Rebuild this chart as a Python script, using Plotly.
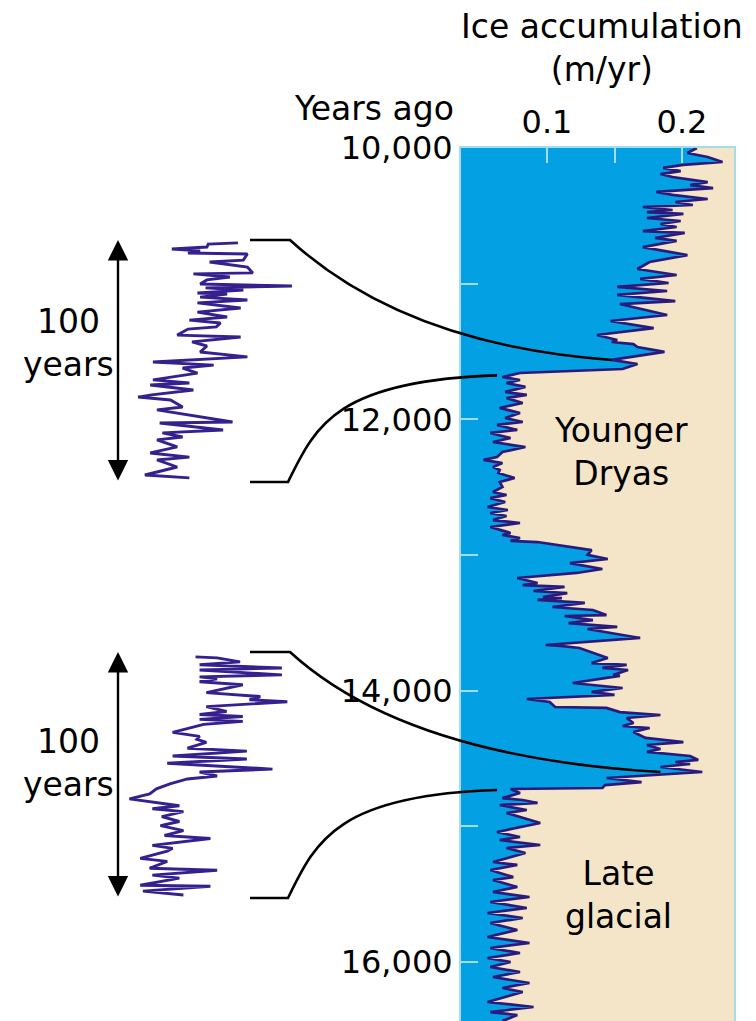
import plotly.graph_objects as go

# ---------------------------------------------------------------------------
# Ice accumulation record (m/yr) against age (years ago)
# ---------------------------------------------------------------------------
years_ago = [
    10000, 10037, 10066, 10103, 10125, 10147, 10170, 10192, 10214, 10251,
    10273, 10295, 10324, 10346, 10376, 10398, 10420, 10435, 10457, 10472,
    10486, 10516, 10538, 10560, 10582, 10612, 10626, 10663, 10685, 10730,
    10789, 10840, 10892, 10936, 10965, 10995, 11024, 11054, 11083, 11128,
    11150, 11231, 11275, 11327, 11378, 11415, 11430, 11445, 11467, 11503,
    11562, 11592, 11629, 11658, 11688, 11710, 11732, 11761, 11798, 11820,
    11843, 11879, 11916, 11953, 11990, 12019, 12041, 12078, 12100, 12137,
    12167, 12204, 12240, 12277, 12299, 12322, 12351, 12373, 12395, 12432,
    12462, 12498, 12535, 12557, 12580, 12609, 12646, 12668, 12690, 12712,
    12742, 12764, 12793, 12837, 12852, 12874, 12896, 12904, 12963, 12999,
    13029, 13059, 13103, 13132, 13169, 13206, 13221, 13235, 13265, 13280,
    13309, 13317, 13331, 13353, 13383, 13405, 13442, 13449, 13479, 13501,
    13530, 13545, 13611, 13663, 13670, 13685, 13759, 13796, 13810, 13832,
    13847, 13884, 13891, 13943, 13980, 14009, 14031, 14061, 14083, 14120,
    14127, 14157, 14179, 14201, 14238, 14260, 14275, 14304, 14348, 14378,
    14400, 14429, 14451, 14481, 14510, 14525, 14540, 14562, 14599, 14614,
    14643, 14673, 14695, 14717, 14724,
    14754, 14791, 14805, 14827, 14842, 14879, 14901, 14975, 15041, 15078,
    15100, 15137, 15159, 15196, 15262, 15284, 15321, 15373, 15395, 15446,
    15483, 15520, 15557, 15601, 15638, 15675, 15712, 15763, 15815, 15859,
    15896, 15933, 15970, 15999, 16036, 16073, 16110, 16154, 16191, 16220,
    16294, 16331, 16368, 16390, 16434,
]
accumulation = [
    0.211, 0.204, 0.219, 0.230, 0.201, 0.186, 0.199, 0.184, 0.193, 0.219,
    0.206, 0.223, 0.181, 0.193, 0.219, 0.195, 0.208, 0.171, 0.193, 0.174,
    0.201, 0.174, 0.199, 0.184, 0.196, 0.171, 0.202, 0.180, 0.196, 0.171,
    0.204, 0.176, 0.167, 0.196, 0.169, 0.190, 0.152, 0.189, 0.152, 0.195,
    0.154, 0.189, 0.147, 0.179, 0.137, 0.152, 0.148, 0.164, 0.167, 0.187,
    0.148, 0.167, 0.156, 0.080, 0.067, 0.080, 0.070, 0.084, 0.069, 0.085,
    0.070, 0.082, 0.065, 0.080, 0.069, 0.082, 0.063, 0.078, 0.058, 0.073,
    0.060, 0.084, 0.067, 0.063, 0.053, 0.067, 0.060, 0.065, 0.064, 0.076,
    0.065, 0.067, 0.060, 0.070, 0.058, 0.069, 0.056, 0.071, 0.058, 0.070,
    0.060, 0.080, 0.058, 0.073, 0.067, 0.080, 0.073, 0.093, 0.133, 0.130,
    0.145, 0.117, 0.141, 0.122, 0.078, 0.093, 0.082, 0.113, 0.090, 0.115,
    0.097, 0.111, 0.093, 0.128, 0.104, 0.134, 0.144, 0.113, 0.134, 0.116,
    0.152, 0.130, 0.169, 0.099, 0.110, 0.124, 0.145, 0.133, 0.159, 0.141,
    0.160, 0.149, 0.154, 0.119, 0.156, 0.133, 0.150, 0.085, 0.102, 0.106,
    0.144, 0.154, 0.184, 0.159, 0.164, 0.156, 0.176, 0.164, 0.173, 0.201,
    0.174, 0.184, 0.174, 0.206, 0.212, 0.195, 0.206, 0.184, 0.215, 0.193,
    0.144, 0.170, 0.143, 0.141, 0.073,
    0.080, 0.067, 0.082, 0.093, 0.065, 0.085, 0.070, 0.095, 0.063, 0.080,
    0.065, 0.095, 0.070, 0.084, 0.060, 0.078, 0.058, 0.075, 0.060, 0.078,
    0.060, 0.087, 0.058, 0.085, 0.056, 0.082, 0.058, 0.078, 0.056, 0.087,
    0.058, 0.080, 0.056, 0.073, 0.058, 0.080, 0.060, 0.087, 0.067, 0.082,
    0.056, 0.090, 0.058, 0.078, 0.067,
]

# High-resolution detail of the two abrupt transitions (years into a 100-year window)
end_yd_years = [
    1.2, 1.7, 2.9, 3.7, 4.5, 5.4, 5.8, 8.3, 9.1, 11.2,
    13.6, 14.0, 15.3, 16.5, 18.2, 19.0, 19.8, 20.7, 21.9, 22.3,
    23.6, 24.8, 26.0, 28.1, 29.8, 31.8, 33.1, 34.3, 35.9, 36.8,
    39.3, 40.1, 42.1, 43.8, 46.3, 48.3, 50.4, 51.7, 52.9, 55.0,
    57.8, 59.1, 59.9, 62.0, 64.0, 64.9, 66.1, 69.0, 70.2, 75.2,
    75.6, 78.5, 79.7, 81.4, 82.6, 85.5, 88.0, 89.7, 90.9, 93.8,
    97.1, 98.3,
]
end_yd_acc = [
    0.130, 0.108, 0.107, 0.081, 0.102, 0.093, 0.137, 0.134, 0.109, 0.137,
    0.141, 0.097, 0.124, 0.107, 0.102, 0.170, 0.106, 0.134, 0.100, 0.122,
    0.102, 0.137, 0.100, 0.132, 0.100, 0.122, 0.094, 0.117, 0.114, 0.093,
    0.085, 0.132, 0.096, 0.107, 0.102, 0.137, 0.067, 0.112, 0.089, 0.100,
    0.067, 0.094, 0.065, 0.097, 0.066, 0.056, 0.080, 0.089, 0.070, 0.126,
    0.072, 0.119, 0.074, 0.089, 0.070, 0.085, 0.065, 0.094, 0.070, 0.085,
    0.061, 0.094,
]
end_glacial_years = [
    2.0, 2.4, 4.0, 5.2, 6.5, 7.3, 9.3, 10.1, 10.9, 12.1,
    13.3, 16.5, 18.1, 19.4, 20.2, 22.2, 24.2, 25.4, 26.2, 27.4,
    28.2, 29.4, 32.7, 34.3, 35.5, 36.7, 39.1, 40.3, 42.3, 43.5,
    45.2, 47.6, 48.8, 50.4, 51.6, 53.6, 55.6, 57.7, 59.7, 60.9,
    62.5, 63.7, 64.9, 66.9, 68.9, 70.6, 72.6, 74.6, 75.8, 78.6,
    79.8, 81.0, 83.9, 85.1, 87.9, 88.7, 90.7, 91.9, 94.8, 95.2,
    97.2, 98.8,
]
end_glacial_acc = [
    0.106, 0.122, 0.139, 0.109, 0.170, 0.109, 0.170, 0.109, 0.122, 0.109,
    0.141, 0.114, 0.154, 0.146, 0.174, 0.114, 0.129, 0.109, 0.141, 0.109,
    0.141, 0.112, 0.089, 0.109, 0.107, 0.114, 0.100, 0.144, 0.089, 0.144,
    0.085, 0.163, 0.109, 0.122, 0.100, 0.087, 0.077, 0.072, 0.057, 0.074,
    0.094, 0.074, 0.097, 0.081, 0.094, 0.080, 0.097, 0.083, 0.117, 0.074,
    0.089, 0.085, 0.065, 0.085, 0.072, 0.122, 0.074, 0.094, 0.065, 0.117,
    0.067, 0.097,
]

# Windows on the main record that the two details expand (accumulation, years ago)
detail_windows = [
    {"top": (0.148, 11562), "bottom": (0.063, 11676)},
    {"top": (0.184, 14599), "bottom": (0.063, 14732)},
]

y_tickvals = [10000, 11000, 12000, 13000, 14000, 15000, 16000]
y_ticktext = ["10,000", "", "12,000", "", "14,000", "", "16,000"]
x_tickvals = [0.1, 0.15, 0.2]
x_ticktext = ["0.1", "", "0.2"]

# ---------------------------------------------------------------------------
# Geometry
# ---------------------------------------------------------------------------
W, H = 756, 1021
FONT = "DejaVu Sans"
BLUE = "#03A0E3"
BEIGE = "#F4E5C8"
TRACE = "#2B1A7C"
FRAME = "#A6DCEA"

X_RANGE = [0.0363, 0.2385]
Y_RANGE = [16434, 10000]
MAIN_PX_X = (461, 734)
MAIN_PX_Y = (148, 1021)
DETAIL_RANGE = [0.05, 0.176]
DETAILS = [
    {"px_x": (130, 300), "px_y": (240, 482), "label_y": 343},
    {"px_x": (120, 290), "px_y": (652, 898), "label_y": 763},
]


def fx(p):
    return p / W


def fy(p):
    return 1 - p / H


def main_px(acc, yr):
    x0, x1 = MAIN_PX_X
    y0, y1 = MAIN_PX_Y
    px = x0 + (acc - X_RANGE[0]) / (X_RANGE[1] - X_RANGE[0]) * (x1 - x0)
    py = y0 + (yr - Y_RANGE[1]) / (Y_RANGE[0] - Y_RANGE[1]) * (y1 - y0)
    return px, py


fig = go.Figure()

fig.add_trace(go.Scatter(
    x=accumulation, y=years_ago, mode="lines", fill="tozerox",
    fillcolor=BLUE, line=dict(color=TRACE, width=2.7),
    xaxis="x", yaxis="y", hoverinfo="skip", showlegend=False,
))

for i, (tt, aa) in enumerate([(end_yd_years, end_yd_acc),
                              (end_glacial_years, end_glacial_acc)]):
    n = str(i + 2)
    fig.add_trace(go.Scatter(
        x=aa, y=tt, mode="lines", line=dict(color="#35208E", width=2.9),
        xaxis="x" + n, yaxis="y" + n, hoverinfo="skip", showlegend=False,
    ))

axis_font = dict(family=FONT, size=32, color="black")
layout = dict(
    width=W, height=H, autosize=False,
    margin=dict(l=0, r=0, t=0, b=0, pad=0, autoexpand=False),
    paper_bgcolor="white", plot_bgcolor="rgba(0,0,0,0)",
    font=dict(family=FONT, color="black"),
    xaxis=dict(
        domain=[fx(MAIN_PX_X[0]), fx(MAIN_PX_X[1])], range=X_RANGE,
        side="top", tickvals=x_tickvals, ticktext=x_ticktext,
        ticks="inside", ticklen=15, tickwidth=2, tickcolor=FRAME,
        tickfont=axis_font, showgrid=False, zeroline=False,
        showline=True, mirror=True, linecolor=FRAME, linewidth=2,
        anchor="y", automargin=False,
    ),
    yaxis=dict(
        domain=[fy(MAIN_PX_Y[1]), fy(MAIN_PX_Y[0])], range=Y_RANGE,
        tickvals=y_tickvals, ticktext=y_ticktext,
        ticks="inside", ticklen=17, tickwidth=2, tickcolor=FRAME,
        tickfont=axis_font, showgrid=False, zeroline=False,
        showline=True, mirror=True, linecolor=FRAME, linewidth=2,
        anchor="x", automargin=False,
    ),
)
for i, d in enumerate(DETAILS):
    n = str(i + 2)
    layout["xaxis" + n] = dict(
        domain=[fx(d["px_x"][0]), fx(d["px_x"][1])], range=DETAIL_RANGE,
        visible=False, anchor="y" + n,
    )
    layout["yaxis" + n] = dict(
        domain=[fy(d["px_y"][1]), fy(d["px_y"][0])], range=[100, 0],
        visible=False, anchor="x" + n,
    )
fig.update_layout(**layout)

# Beige background of the record panel
fig.add_shape(type="rect", xref="x domain", yref="y domain", x0=0, x1=1, y0=0, y1=1,
              fillcolor=BEIGE, line=dict(width=0), layer="below")

# Connector curves from the detail brackets to the main record
for d, w in zip(DETAILS, detail_windows):
    top_y, bot_y = d["px_y"]
    bx0, bx1 = 250, 290
    tx, ty = main_px(*w["top"])
    bx, by = main_px(*w["bottom"])
    top_path = (f"M {fx(bx0)},{fy(top_y)} L {fx(bx1)},{fy(top_y)} "
                f"Q {fx(bx1 + 115)},{fy(ty - 15)} {fx(tx)},{fy(ty)}")
    bot_path = (f"M {fx(bx0)},{fy(bot_y)} L {fx(bx1 - 2)},{fy(bot_y)} "
                f"C {fx(bx1 + 25)},{fy(bot_y - 55)} {fx(bx1 + 45)},{fy(by + 5)} "
                f"{fx(bx)},{fy(by)}")
    for p in (top_path, bot_path):
        fig.add_shape(type="path", path=p, xref="paper", yref="paper",
                      line=dict(color="black", width=2.6), layer="above")

    # Double-headed arrow spanning the 100-year window
    fig.add_annotation(
        x=fx(118), y=fy(top_y), xref="paper", yref="paper", text="",
        showarrow=True, ax=0, ay=bot_y - top_y, axref="pixel", ayref="pixel",
        arrowhead=2, startarrowhead=2, arrowside="end+start",
        arrowsize=1.7, startarrowsize=1.7, arrowwidth=2.4, arrowcolor="black",
        standoff=0, startstandoff=0,
    )
    fig.add_annotation(
        x=fx(68), y=fy(d["label_y"]), xref="paper", yref="paper",
        text="100<br>years", showarrow=False, xanchor="center", yanchor="middle",
        font=dict(family=FONT, size=33, color="black"),
    )

text_font = dict(family=FONT, size=33, color="black")
fig.add_annotation(x=fx(602), y=fy(48), xref="paper", yref="paper",
                   text="Ice accumulation<br>(m/yr)", showarrow=False,
                   xanchor="center", yanchor="middle", font=text_font)
fig.add_annotation(x=fx(456), y=fy(108), xref="paper", yref="paper",
                   text="Years ago", showarrow=False,
                   xanchor="right", yanchor="middle", font=text_font)
fig.add_annotation(x=fx(621), y=fy(452), xref="paper", yref="paper",
                   text="Younger<br>Dryas", showarrow=False,
                   xanchor="center", yanchor="middle", font=text_font)
fig.add_annotation(x=fx(618), y=fy(895), xref="paper", yref="paper",
                   text="Late<br>glacial", showarrow=False,
                   xanchor="center", yanchor="middle", font=text_font)

fig.write_html("out.html")
